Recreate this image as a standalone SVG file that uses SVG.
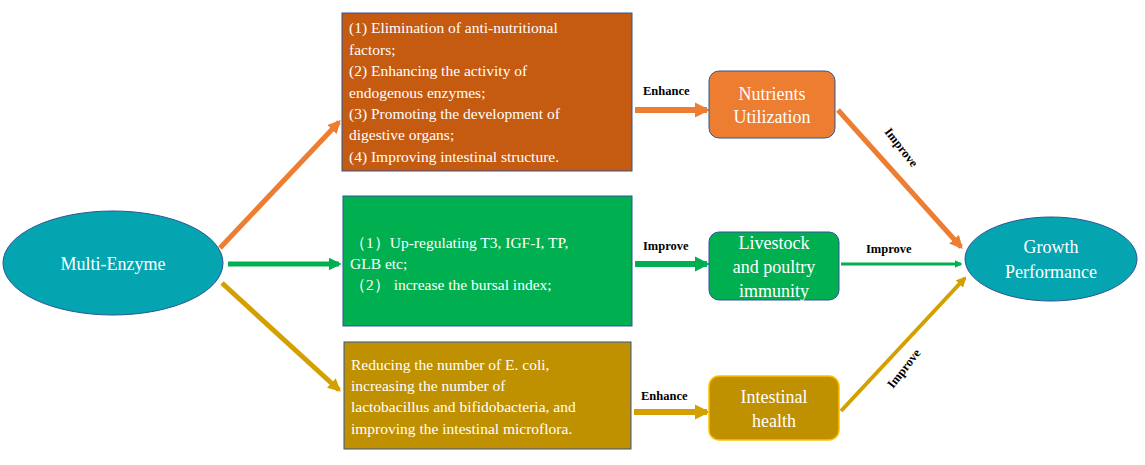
<svg xmlns="http://www.w3.org/2000/svg" width="1145" height="465" viewBox="0 0 1145 465">
<defs>
<style>
.bt{font-family:"Liberation Serif",serif;font-size:15.5px;fill:#fff}
.nt{font-family:"Liberation Serif",serif;font-size:18px;fill:#fff;text-anchor:middle}
.lb{font-family:"Liberation Serif",serif;font-size:12.5px;font-weight:bold;fill:#000}
.ah{stroke-linecap:butt;fill:none}
</style>
<marker id="mo" viewBox="0 0 10 10" refX="8" refY="5" markerWidth="2.6" markerHeight="2.6" orient="auto" markerUnits="strokeWidth"><path d="M0,0L10,5L0,10z" fill="#ED7D31"/></marker>
<marker id="mg" viewBox="0 0 10 10" refX="8" refY="5" markerWidth="2.6" markerHeight="2.6" orient="auto" markerUnits="strokeWidth"><path d="M0,0L10,5L0,10z" fill="#00B050"/></marker>
<marker id="my" viewBox="0 0 10 10" refX="8" refY="5" markerWidth="2.6" markerHeight="2.6" orient="auto" markerUnits="strokeWidth"><path d="M0,0L10,5L0,10z" fill="#D4A000"/></marker>
</defs>
<rect width="1145" height="465" fill="#fff"/>
<g id="connectors">
<line x1="220" y1="248" x2="339" y2="122" stroke="#ED7D31" stroke-width="5" marker-end="url(#mo)"/>
<line x1="228" y1="264" x2="339" y2="264" stroke="#00B050" stroke-width="5" marker-end="url(#mg)"/>
<line x1="222" y1="283" x2="339" y2="390" stroke="#D4A000" stroke-width="5" marker-end="url(#my)"/>
<line x1="635" y1="110" x2="707" y2="110" stroke="#ED7D31" stroke-width="6" marker-end="url(#mo)"/>
<line x1="635" y1="264" x2="707" y2="264" stroke="#00B050" stroke-width="6" marker-end="url(#mg)"/>
<line x1="634" y1="412" x2="707" y2="412" stroke="#D4A000" stroke-width="6" marker-end="url(#my)"/>
<line x1="838" y1="110" x2="961" y2="247" stroke="#ED7D31" stroke-width="5" marker-end="url(#mo)"/>
<line x1="841" y1="264" x2="961" y2="264" stroke="#00B050" stroke-width="3" marker-end="url(#mg)"/>
<line x1="841" y1="411" x2="965" y2="278" stroke="#D4A000" stroke-width="4" marker-end="url(#my)"/>
<text class="lb" x="643" y="95">Enhance</text>
<text class="lb" x="643" y="250">Improve</text>
<text class="lb" x="866" y="253">Improve</text>
<text class="lb" x="641" y="400">Enhance</text>
<text class="lb" transform="translate(884,132) rotate(52)">Improve</text>
<text class="lb" transform="translate(893,389) rotate(-52)">Improve</text>
</g>
<g id="multi-enzyme">
<ellipse cx="113" cy="263" rx="110" ry="52" fill="#04A5B0" stroke="#2F5597" stroke-width="1"/>
<text class="nt" x="113" y="270">Multi-Enzyme</text>
</g>
<g id="box-orange">
<rect x="342" y="13" width="290" height="158" fill="#C55A11" stroke="#2F5597" stroke-width="1"/>
<text class="bt" x="349" y="33">(1) Elimination of anti-nutritional</text>
<text class="bt" x="349" y="55">factors;</text>
<text class="bt" x="349" y="76">(2) Enhancing the activity of</text>
<text class="bt" x="349" y="98">endogenous enzymes;</text>
<text class="bt" x="349" y="119">(3) Promoting the development of</text>
<text class="bt" x="349" y="140">digestive organs;</text>
<text class="bt" x="349" y="162">(4) Improving intestinal structure.</text>
</g>
<g id="box-green">
<rect x="343" y="196" width="289" height="130" fill="#00B050" stroke="#2F5597" stroke-width="1"/>
<text class="bt" x="350" y="248">（1）Up-regulating T3, IGF-I, TP,</text>
<text class="bt" x="350" y="269">GLB etc;</text>
<text class="bt" x="350" y="290">（2） increase the bursal index;</text>
</g>
<g id="box-gold">
<rect x="344" y="342" width="287" height="107" fill="#BF9000" stroke="#2F5597" stroke-width="1"/>
<text class="bt" x="351" y="370">Reducing the number of E. coli,</text>
<text class="bt" x="351" y="391">increasing the number of</text>
<text class="bt" x="351" y="412">lactobacillus and bifidobacteria, and</text>
<text class="bt" x="351" y="434">improving the intestinal microflora.</text>
</g>
<g id="nutrients">
<rect x="709" y="71" width="126" height="67" rx="10" fill="#ED7D31" stroke="#2F5597" stroke-width="1"/>
<text class="nt" x="772" y="100">Nutrients</text>
<text class="nt" x="772" y="123">Utilization</text>
</g>
<g id="immunity">
<rect x="709" y="232" width="130" height="68" rx="10" fill="#00B050" stroke="#2F5597" stroke-width="1"/>
<text class="nt" x="774" y="249">Livestock</text>
<text class="nt" x="774" y="273">and poultry</text>
<text class="nt" x="774" y="297">immunity</text>
</g>
<g id="intestinal">
<rect x="709" y="376" width="130" height="64" rx="10" fill="#BF9000" stroke="#FFC000" stroke-width="1.5"/>
<text class="nt" x="774" y="403">Intestinal</text>
<text class="nt" x="774" y="427">health</text>
</g>
<g id="growth">
<ellipse cx="1051" cy="259" rx="86" ry="42" fill="#04A5B0" stroke="#2F5597" stroke-width="1"/>
<text class="nt" x="1051" y="253">Growth</text>
<text class="nt" x="1051" y="278">Performance</text>
</g>
</svg>
